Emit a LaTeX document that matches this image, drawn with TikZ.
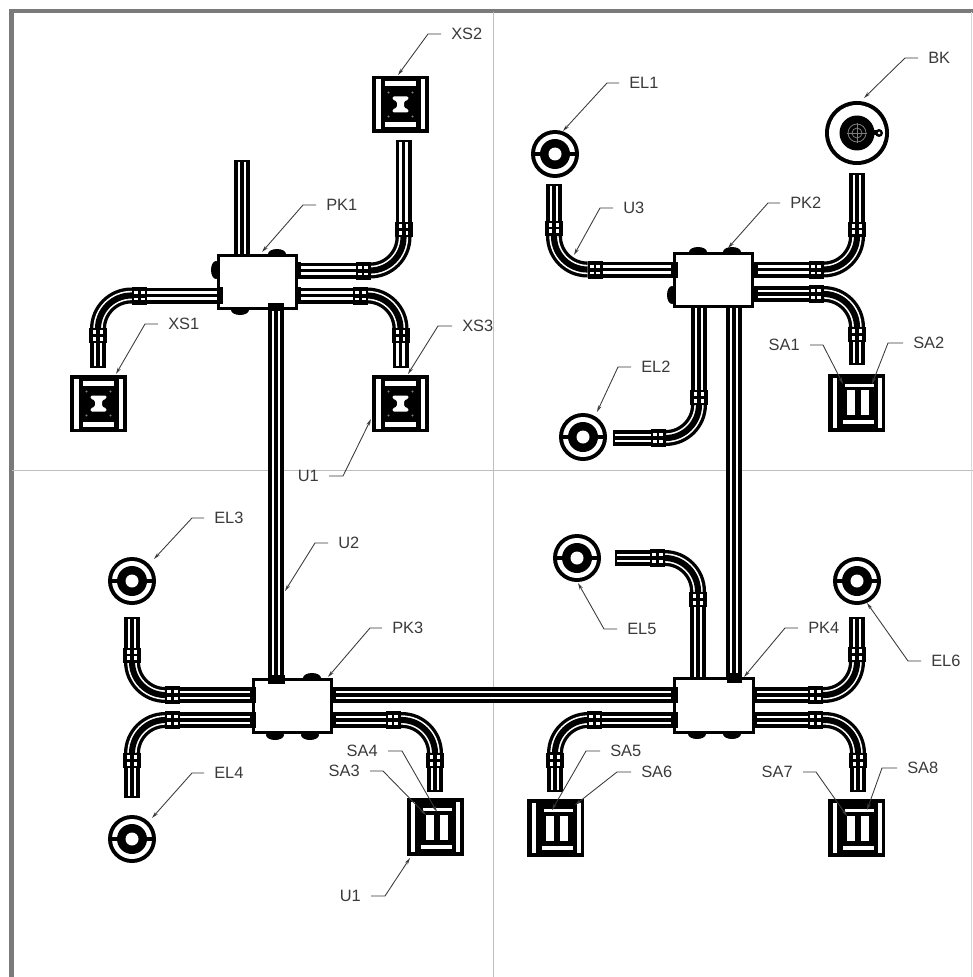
\documentclass[tikz,border=0pt]{standalone}
\usepackage{fontspec}
\usepackage{xcolor}
\usepackage{tikz}
\usetikzlibrary{arrows.meta}
\setmainfont{Liberation Sans}
\definecolor{ink}{HTML}{000000}
\definecolor{labeltext}{HTML}{3A3A3A}
\definecolor{frame}{HTML}{7A7A7A}
\definecolor{gridline}{HTML}{BEBEBE}
\definecolor{faint}{HTML}{7C7C7C}
\tikzset{
  x=.75pt, y=-.75pt,
  outline/.style={draw=frame, line width=3.4pt},
  axis/.style={draw=gridline, line width=.6pt},
  ductout/.style={draw=ink, line width=12pt},
  ductgap/.style={draw=white, line width=6.6pt, shorten <=1.6pt, shorten >=1.6pt},
  ductmid/.style={draw=ink, line width=2.8pt},
  elbowout/.style={draw=ink, line width=12pt, rounded corners=25pt},
  elbowgap/.style={draw=white, line width=7pt, rounded corners=25pt},
  elbowmid/.style={draw=ink, line width=4.6pt, rounded corners=25pt},
  junction/.style={draw=ink, fill=white, line width=2.4pt, minimum width=59pt, minimum height=40pt, inner sep=0pt},
  bump/.style={fill=ink},
  port/.style={fill=ink},
  labr/.style={text=labeltext, font=\fontsize{12.3}{14}\selectfont, anchor=west, inner sep=0pt, inner xsep=7.5pt},
  labl/.style={text=labeltext, font=\fontsize{12.3}{14}\selectfont, anchor=east, inner sep=0pt, inner xsep=7.5pt},
  lead/.style={draw=labeltext, line width=.65pt, -{Stealth[length=5pt,width=2.6pt]}},
  collar/.pic={
    \fill[ink] (-7.5,-9) rectangle (7.5,9);
    \fill[white] (-5.2,-4.6) rectangle (-1.2,-2);
    \fill[white] (1.2,-4.6) rectangle (5.2,-2);
    \fill[white] (-5.2,2) rectangle (-1.2,4.6);
    \fill[white] (1.2,2) rectangle (5.2,4.6);
  },
  lamp/.pic={
    \fill[ink] (0,0) circle (24);
    \fill[white] (0,0) circle (20);
    \fill[ink] (0,0) circle (15);
    \fill[ink] (-21,-2.2) rectangle (21,2.2);
    \fill[white] (0,0) circle (6.5);
  },
  socket/.pic={
    \fill[ink] (-28.5,-28.5) rectangle (28.5,28.5);
    \fill[white] (-24.5,-25) rectangle (-20,25);
    \fill[white] (20,-25) rectangle (24.5,25);
    \fill[white] (-15.5,-23) rectangle (15.5,-18);
    \fill[white] (-15.5,18) rectangle (15.5,23);
    \fill[white, rounded corners=1pt] (-8,-8) -- (8,-8) -- (8,-5) -- (3.5,-3) -- (3.5,3) -- (8,5) -- (8,8) -- (-8,8) -- (-8,5) -- (-3.5,3) -- (-3.5,-3) -- (-8,-5) -- cycle;
    \fill[faint] (-12,-12) circle (1.2);
    \fill[faint] (12,-12) circle (1.2);
    \fill[faint] (-12,12) circle (1.2);
    \fill[faint] (12,12) circle (1.2);
  },
  switch/.pic={
    \fill[ink] (-28.5,-29) rectangle (28.5,29);
    \fill[white] (-24,-25) rectangle (-20,25);
    \fill[white] (21,-25) rectangle (25,25);
    \fill[white] (-14,17.5) rectangle (17,21.5);
    \fill[white] (-12,-19) rectangle (17,-16);
    \fill[white] (-9.5,-12.5) rectangle (-1.5,12.5);
    \fill[white] (4.5,-12.5) rectangle (12.5,12.5);
  }
}
\newcommand{\duct}[1]{\draw[ductout] #1; \draw[ductgap] #1; \draw[ductmid] #1;}
\newcommand{\elbow}[1]{\draw[elbowout] #1; \draw[elbowgap] #1; \draw[elbowmid] #1;}

\begin{document}
\begin{tikzpicture}
  \useasboundingbox (0,0) rectangle (973,977);

  % sheet edge and axes
  \draw[outline] (973,11) -- (11.5,11) -- (11.5,977);
  \draw[axis] (493,12) -- (493,977);
  \draw[axis] (12,470) -- (973,470);
  \draw[draw=gridline!60, line width=.4pt] (971.5,12) -- (971.5,977);

  % ducts of PK1
  \duct{(242,160) -- (242,256)}
  \duct{(298,270.5) -- (370,270.5)}
  \elbow{(370,270.5) -- (403.5,270.5) -- (403.5,237)}
  \duct{(403.5,237) -- (403.5,140)}
  \duct{(298,295.5) -- (368,295.5)}
  \elbow{(368,295.5) -- (400.5,295.5) -- (400.5,328)}
  \duct{(400.5,328) -- (400.5,368)}
  \duct{(219,295.5) -- (132,295.5)}
  \elbow{(132,295.5) -- (98,295.5) -- (98,329.5)}
  \duct{(98,329.5) -- (98,368)}
  \pic at (363,270.5) {collar};
  \pic[rotate=90] at (403.5,229.5) {collar};
  \pic at (360.5,295.5) {collar};
  \pic[rotate=90] at (400.5,335.5) {collar};
  \pic at (139.5,295.5) {collar};
  \pic[rotate=90] at (98,335.5) {collar};

  % ducts of PK2
  \duct{(554,184) -- (554,236)}
  \elbow{(554,236) -- (554,269.5) -- (587.5,269.5)}
  \duct{(587.5,269.5) -- (675,269.5)}
  \duct{(857,173) -- (857,236)}
  \elbow{(857,236) -- (857,269.5) -- (823.5,269.5)}
  \duct{(823.5,269.5) -- (752,269.5)}
  \duct{(752,294) -- (824,294)}
  \elbow{(824,294) -- (857,294) -- (857,327)}
  \duct{(857,327) -- (857,365)}
  \duct{(699,306) -- (699,405)}
  \elbow{(699,405) -- (699,438) -- (666,438)}
  \duct{(666,438) -- (613,438)}
  \pic[rotate=90] at (554,228) {collar};
  \pic at (595,269.5) {collar};
  \pic[rotate=90] at (857,229) {collar};
  \pic at (816,269.5) {collar};
  \pic at (816,294) {collar};
  \pic[rotate=90] at (857,334.5) {collar};
  \pic[rotate=90] at (699,397.5) {collar};
  \pic at (658,438) {collar};

  % ducts of PK3
  \duct{(132,617) -- (132,662)}
  \elbow{(132,662) -- (132,695) -- (165,695)}
  \duct{(165,695) -- (254,695)}
  \duct{(254,720) -- (165,720)}
  \elbow{(165,720) -- (132,720) -- (132,753)}
  \duct{(132,753) -- (132,798)}
  \duct{(331,720) -- (400,720)}
  \elbow{(400,720) -- (435,720) -- (435,755)}
  \duct{(435,755) -- (435,792)}
  \pic[rotate=90] at (132,655) {collar};
  \pic at (172.5,695) {collar};
  \pic at (172.5,720) {collar};
  \pic[rotate=90] at (132,760.5) {collar};
  \pic at (393,720) {collar};
  \pic[rotate=90] at (435,760.5) {collar};

  % ducts of PK4
  \duct{(698,680) -- (698,592)}
  \elbow{(698,592) -- (698,558) -- (665,558)}
  \duct{(665,558) -- (615,558)}
  \duct{(752,695) -- (823,695)}
  \elbow{(823,695) -- (857,695) -- (857,661)}
  \duct{(857,661) -- (857,617)}
  \duct{(752,720) -- (823,720)}
  \elbow{(823,720) -- (858,720) -- (858,755)}
  \duct{(858,755) -- (858,792)}
  \duct{(676,720) -- (587,720)}
  \elbow{(587,720) -- (555,720) -- (555,752)}
  \duct{(555,752) -- (555,792)}
  \pic[rotate=90] at (698,599.5) {collar};
  \pic at (657.5,558) {collar};
  \pic at (815.5,695) {collar};
  \pic[rotate=90] at (857,654.5) {collar};
  \pic at (815.5,720) {collar};
  \pic[rotate=90] at (858,760.5) {collar};
  \pic at (594.5,720) {collar};
  \pic[rotate=90] at (555,760.5) {collar};

  % long runs between the boxes
  \duct{(276,308) -- (276,680)}
  \duct{(734,306) -- (734,680)}
  \duct{(331,695) -- (676,695)}

  % knockouts
  \fill[bump] (277,254) ellipse (9 and 5);
  \fill[bump] (216,270) ellipse (5 and 9);
  \fill[bump] (240,310) ellipse (9 and 5);
  \fill[bump] (698,252) ellipse (9 and 5);
  \fill[bump] (732,252) ellipse (9 and 5);
  \fill[bump] (672,295) ellipse (5 and 9);
  \fill[bump] (312,678) ellipse (9 and 5);
  \fill[bump] (275,735) ellipse (9 and 5);
  \fill[bump] (310,735) ellipse (9 and 5);
  \fill[bump] (697,734) ellipse (9 and 5);
  \fill[bump] (732,734) ellipse (9 and 5);

  % junction boxes
  \node[junction] (boxPK1) at (257.5,282) {};
  \node[junction] (boxPK2) at (713.5,280) {};
  \node[junction] (boxPK3) at (292.5,706) {};
  \node[junction] (boxPK4) at (714,705.5) {};

  % duct entries
  \fill[port] (268,303) rectangle (284,311);
  \fill[port] (217,287) rectangle (223,304);
  \fill[port] (296,262) rectangle (301,279);
  \fill[port] (296,287) rectangle (301,304);
  \fill[port] (671,262) rectangle (678,278);
  \fill[port] (752,262) rectangle (758,278);
  \fill[port] (752,286) rectangle (758,302);
  \fill[port] (268,675) rectangle (285,684);
  \fill[port] (250,687) rectangle (256,703);
  \fill[port] (250,712) rectangle (256,728);
  \fill[port] (331,687) rectangle (336,703);
  \fill[port] (331,712) rectangle (336,728);
  \fill[port] (727,673) rectangle (742,683);
  \fill[port] (671,687) rectangle (678,703);
  \fill[port] (671,712) rectangle (678,728);
  \fill[port] (752,687) rectangle (757,703);
  \fill[port] (752,712) rectangle (757,728);

  % devices
  \pic (XS2) at (400.5,104.5) {socket};
  \pic (XS1) at (98.5,403.5) {socket};
  \pic (XS3) at (400.5,403.5) {socket};
  \pic (SWa) at (856.5,402.5) {switch};
  \pic (SWb) at (435,827) {switch};
  \pic (SWc) at (555.5,828) {switch};
  \pic (SWd) at (856.5,828) {switch};
  \pic (EL1) at (555,154) {lamp};
  \pic (EL2) at (583,437) {lamp};
  \pic (EL3) at (132,581) {lamp};
  \pic (EL4) at (132,839) {lamp};
  \pic (EL5) at (577,558) {lamp};
  \pic (EL6) at (857,581) {lamp};

  % bell
  \fill[ink] (857,133) circle (32);
  \fill[white] (857,133) circle (28);
  \fill[ink] (857,133) circle (17.5);
  \fill[ink] (857,130.5) rectangle (878,135.5);
  \fill[ink] (879,133) circle (4);
  \fill[white] (879,133) circle (1.5);
  \draw[faint, line width=.6pt] (857,133) circle (9);
  \draw[faint, line width=.6pt] (857,133) circle (5);
  \draw[faint, line width=.6pt] (847,133) -- (867,133);
  \draw[faint, line width=.6pt] (857,123) -- (857,143);

  % labels
  \node[labr] (labXS2) at (441,34) {XS2};
  \node[labr] (labPK1) at (316,205) {PK1};
  \node[labr] (labXS1) at (158,324) {XS1};
  \node[labr] (labXS3) at (452,326) {XS3};
  \node[labl] (labU1a) at (329,476) {U1};
  \node[labr] (labEL1) at (619,83) {EL1};
  \node[labr] (labBK) at (918,58) {BK};
  \node[labr] (labU3) at (613,208) {U3};
  \node[labr] (labPK2) at (780,203) {PK2};
  \node[labl] (labSA1) at (810,345) {SA1};
  \node[labr] (labSA2) at (903,343) {SA2};
  \node[labr] (labEL2) at (631,367) {EL2};
  \node[labr] (labEL3) at (204,518) {EL3};
  \node[labr] (labU2) at (328,543) {U2};
  \node[labr] (labPK3) at (382,628) {PK3};
  \node[labr] (labEL4) at (204,773) {EL4};
  \node[labl] (labSA4) at (388,751) {SA4};
  \node[labl] (labSA3) at (370,771) {SA3};
  \node[labl] (labU1b) at (371,896) {U1};
  \node[labr] (labEL5) at (617,629) {EL5};
  \node[labr] (labEL6) at (921,661) {EL6};
  \node[labr] (labPK4) at (798,628) {PK4};
  \node[labr] (labSA5) at (600,751) {SA5};
  \node[labr] (labSA6) at (631,772) {SA6};
  \node[labl] (labSA7) at (803,772) {SA7};
  \node[labr] (labSA8) at (897,768) {SA8};

  % leaders
  \draw[lead] (labXS2.west) -- (428,34) -- (398,75);
  \draw[lead] (labPK1.west) -- (303,205) -- (262,252);
  \draw[lead] (labXS1.west) -- (145,324) -- (116,374);
  \draw[lead] (labXS3.west) -- (438,326) -- (408,374);
  \draw[lead] (labU1a.east) -- (343,476) -- (371,419);
  \draw[lead] (labEL1.west) -- (607,83) -- (563,131);
  \draw[lead] (labBK.west) -- (905,58) -- (864,98);
  \draw[lead] (labU3.west) -- (600,208) -- (574,255);
  \draw[lead] (labPK2.west) -- (768,203) -- (728,248);
  \draw[lead] (labSA1.east) -- (823,345) -- (843,384);
  \draw[lead] (labSA2.west) -- (888,343) -- (872,384);
  \draw[lead] (labEL2.west) -- (618,367) -- (597,412);
  \draw[lead] (labEL3.west) -- (192,518) -- (154,559);
  \draw[lead] (labU2.west) -- (315,543) -- (285,591);
  \draw[lead] (labPK3.west) -- (370,628) -- (328,677);
  \draw[lead] (labEL4.west) -- (192,773) -- (152,818);
  \draw[lead] (labSA4.east) -- (402,751) -- (437,812);
  \draw[lead] (labSA3.east) -- (383,771) -- (426,815);
  \draw[lead] (labU1b.east) -- (385,896) -- (410,858);
  \draw[lead] (labEL5.west) -- (604,629) -- (578,583);
  \draw[lead] (labEL6.west) -- (908,661) -- (867,603);
  \draw[lead] (labPK4.west) -- (785,628) -- (744,677);
  \draw[lead] (labSA5.west) -- (586,751) -- (552,810);
  \draw[lead] (labSA6.west) -- (617,772) -- (575,805);
  \draw[lead] (labSA7.east) -- (816,772) -- (847,816);
  \draw[lead] (labSA8.west) -- (882,768) -- (867,810);
\end{tikzpicture}
\end{document}
